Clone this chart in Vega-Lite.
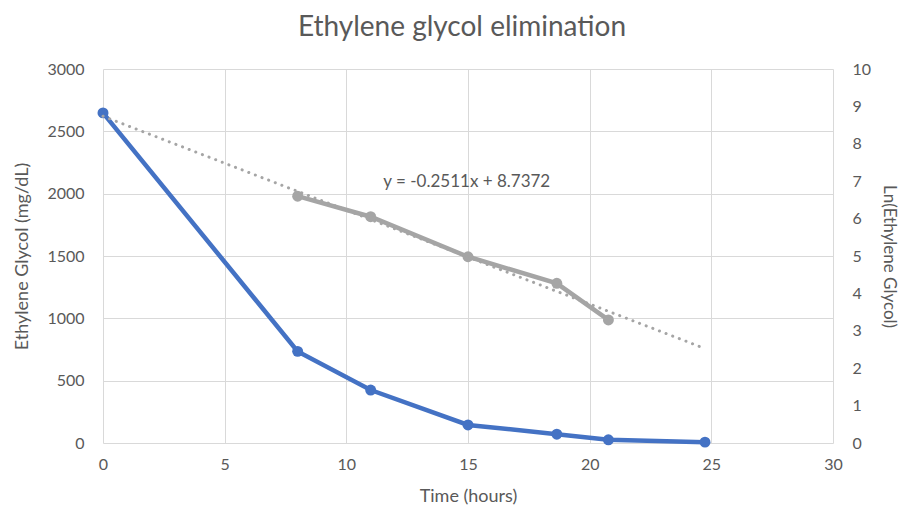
{
  "$schema": "https://vega.github.io/schema/vega-lite/v6.json",
  "width": 730,
  "height": 374,
  "autosize": {"type": "none"},
  "padding": {"left": 103, "top": 69, "right": 69, "bottom": 67},
  "background": "white",
  "config": {
    "font": "Lato",
    "view": {"stroke": null},
    "axis": {"labelColor": "#595959", "titleColor": "#595959", "labelFont": "Lato", "titleFont": "Lato", "labelFontSize": 16, "titleFontSize": 18, "titleFontWeight": "normal", "ticks": false, "domain": false, "gridColor": "#D9D9D9", "gridWidth": 1, "labelFlush": false}
  },
  "title": {"text": "Ethylene glycol elimination", "fontSize": 28, "font": "Lato", "fontWeight": "normal", "color": "#595959", "anchor": "middle", "frame": "group", "offset": 19, "dx": -6},
  "datasets": {
    "eg": [
      {"t": 0, "eg": 2648},
      {"t": 8, "eg": 735},
      {"t": 11, "eg": 425},
      {"t": 15, "eg": 145},
      {"t": 18.65, "eg": 71},
      {"t": 20.77, "eg": 26},
      {"t": 24.74, "eg": 7}
    ],
    "ln": [
      {"t": 8, "ln": 6.60},
      {"t": 11, "ln": 6.05},
      {"t": 15, "ln": 4.98},
      {"t": 18.65, "ln": 4.27},
      {"t": 20.77, "ln": 3.29}
    ],
    "trend": [
      {"t": 0, "ln": 8.7372},
      {"t": 24.74, "ln": 2.525}
    ],
    "label": [
      {"t": 14.95, "ln": 6.99, "text": "y = -0.2511x + 8.7372"}
    ]
  },
  "layer": [
    {
      "data": {"name": "eg"},
      "mark": {"type": "line", "color": "#4472C4", "strokeWidth": 4.5, "point": {"filled": true, "size": 120, "color": "#4472C4"}},
      "encoding": {
        "x": {"field": "t", "type": "quantitative", "scale": {"domain": [0, 30], "nice": false}, "axis": {"values": [0, 5, 10, 15, 20, 25, 30], "title": "Time (hours)", "labelPadding": 13, "titlePadding": 15, "grid": true}},
        "y": {"field": "eg", "type": "quantitative", "scale": {"domain": [0, 3000], "nice": false}, "axis": {"values": [0, 500, 1000, 1500, 2000, 2500, 3000], "format": "d", "title": "Ethylene Glycol (mg/dL)", "labelPadding": 19, "titlePadding": 15, "grid": true}}
      }
    },
    {
      "data": {"name": "ln"},
      "mark": {"type": "line", "color": "#A5A5A5", "strokeWidth": 4.5, "point": {"filled": true, "size": 120, "color": "#A5A5A5"}},
      "encoding": {
        "x": {"field": "t", "type": "quantitative", "scale": {"domain": [0, 30], "nice": false}, "axis": {"values": [0, 5, 10, 15, 20, 25, 30], "title": "Time (hours)", "labelPadding": 13, "titlePadding": 15, "grid": true}},
        "y": {"field": "ln", "type": "quantitative", "scale": {"domain": [0, 10], "nice": false}, "axis": {"orient": "right", "values": [0, 1, 2, 3, 4, 5, 6, 7, 8, 9, 10], "title": "Ln(Ethylene Glycol)", "titleFontSize": 17, "labelPadding": 19, "titlePadding": 9, "grid": false}}
      }
    },
    {
      "data": {"name": "trend"},
      "mark": {"type": "line", "color": "#A5A5A5", "strokeWidth": 3, "strokeDash": [0.1, 7], "strokeCap": "round"},
      "encoding": {
        "x": {"field": "t", "type": "quantitative", "scale": {"domain": [0, 30], "nice": false}, "axis": {"values": [0, 5, 10, 15, 20, 25, 30], "title": "Time (hours)", "labelPadding": 13, "titlePadding": 15, "grid": true}},
        "y": {"field": "ln", "type": "quantitative", "scale": {"domain": [0, 10], "nice": false}, "axis": null}
      }
    },
    {
      "data": {"name": "label"},
      "mark": {"type": "text", "color": "#595959", "fontSize": 17, "font": "Lato", "align": "center", "baseline": "middle"},
      "encoding": {
        "x": {"field": "t", "type": "quantitative", "scale": {"domain": [0, 30], "nice": false}, "axis": {"values": [0, 5, 10, 15, 20, 25, 30], "title": "Time (hours)", "labelPadding": 13, "titlePadding": 15, "grid": true}},
        "y": {"field": "ln", "type": "quantitative", "scale": {"domain": [0, 10], "nice": false}, "axis": null},
        "text": {"field": "text"}
      }
    }
  ],
  "resolve": {"scale": {"y": "independent"}}
}
